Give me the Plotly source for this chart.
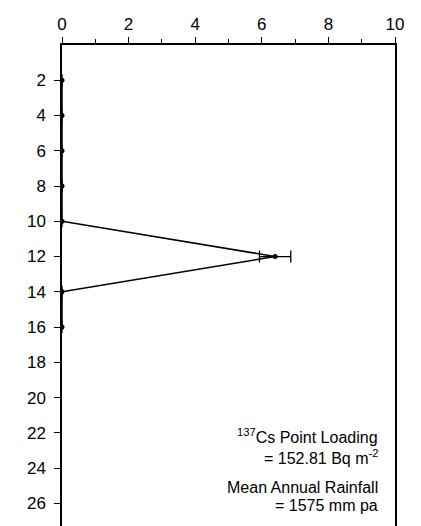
import plotly.graph_objects as go

depth = [2, 4, 6, 8, 10, 12, 14, 16]
activity = [0, 0, 0, 0, 0, 6.4, 0, 0]
err = [0, 0, 0, 0, 0, 0.47, 0, 0]
x_ticks = [0, 2, 4, 6, 8, 10]
y_ticks = [2, 4, 6, 8, 10, 12, 14, 16, 18, 20, 22, 24, 26]

note_lines = [
    "<sup>137</sup>Cs Point Loading",
    "= 152.81 Bq m<sup>-2</sup>",
    "Mean Annual Rainfall",
    "= 1575 mm pa",
]
note_depths = [22.2, 23.35, 25.1, 26.15]

W, H = 421, 526
ml, mr, mt, mb = 54, 34, 37, 0
px_per_unit = 17.34
ymax = (H - 8 - mt - mb) / px_per_unit

fig = go.Figure()
fig.add_trace(go.Scatter(
    x=activity, y=depth, mode="lines+markers",
    line=dict(color="black", width=1.5),
    marker=dict(color="black", size=5),
    error_x=dict(type="data", array=err, color="black", thickness=1.3, width=6, visible=True),
    showlegend=False,
))

fam = "Liberation Sans, Arial, sans-serif"
font = dict(family=fam, size=17, color="black")
for txt, d in zip(note_lines, note_depths):
    fig.add_annotation(
        x=9.55, y=d, xref="x", yref="y", xanchor="right", yanchor="middle",
        align="right", showarrow=False, text=txt,
        font=dict(family=fam, size=16, color="black"),
    )

fig.update_layout(
    width=W, height=H,
    margin=dict(l=ml, r=mr, t=mt, b=mb),
    paper_bgcolor="white", plot_bgcolor="white",
    font=font,
    xaxis=dict(
        side="top", range=[0, 10], tickvals=x_ticks, showgrid=False, zeroline=False,
        showline=True, linecolor="black", linewidth=1.5,
        ticks="outside", ticklen=6, tickwidth=1.3, tickcolor="black",
        minor=dict(dtick=1, ticks="outside", ticklen=4, tickwidth=1, tickcolor="black"),
        tickfont=font,
    ),
    yaxis=dict(
        range=[ymax, 0], tickvals=y_ticks, showgrid=False, zeroline=False,
        showline=True, mirror=True, linecolor="black", linewidth=1.5,
        ticks="outside", ticklen=6, tickwidth=1.3, tickcolor="black",
        ticklabelstandoff=5,
        tickfont=font,
    ),
)
fig.write_html("out.html")
